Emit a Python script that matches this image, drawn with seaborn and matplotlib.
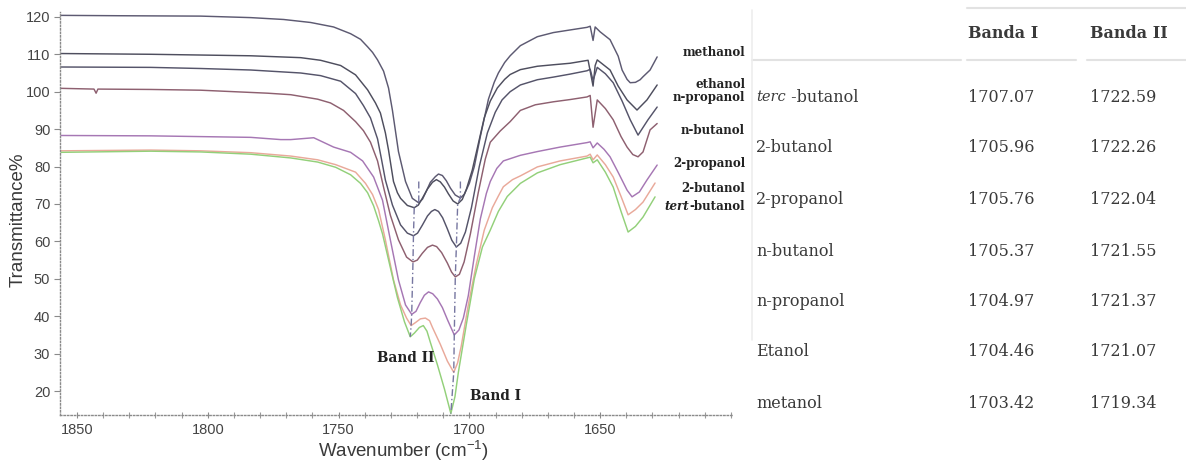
import matplotlib
matplotlib.use("Agg")
import matplotlib.pyplot as plt
import pandas as pd
import seaborn as sns
from matplotlib.ticker import MultipleLocator

# ---------------------------------------------------------------- table data
TABLE_HEADER = ["Banda I", "Banda II"]
TABLE_ROWS = ["terc -butanol", "2-butanol", "2-propanol", "n-butanol",
              "n-propanol", "Etanol", "metanol"]
BAND_I = [1707.07, 1705.96, 1705.76, 1705.37, 1704.97, 1704.46, 1703.42]
BAND_II = [1722.59, 1722.26, 1722.04, 1721.55, 1721.37, 1721.07, 1719.34]

# ---------------------------------------------------------------- FTIR spectra
SAMPLES = ["methanol", "ethanol", "n-propanol", "n-butanol",
           "2-propanol", "2-butanol", "tert-butanol"]
TABLE_INDEX = [6, 5, 4, 3, 2, 1, 0]   # row of each sample in the table

WN_METHANOL = [1856.1, 1833.2, 1802.7, 1783.6, 1771.0, 1760.7, 1751.9, 1745.4,
               1741.6, 1738.9, 1737.0, 1735.1, 1732.8, 1730.9, 1729.4, 1727.1,
               1724.4, 1721.8, BAND_II[6], 1717.9, 1716.4, 1714.9, 1713.0, 1711.8,
               1710.3, 1708.8, 1707.2, 1705.4, BAND_I[6], 1701.9, 1700.0, 1698.1,
               1695.8, 1692.7, 1690.5, 1688.9, 1686.5, 1684.4, 1680.5, 1674.0,
               1667.9, 1661.5, 1655.0, 1653.8, 1652.7, 1651.9, 1650.0, 1646.2,
               1643.1, 1641.6, 1639.7, 1638.5, 1636.5, 1634.7, 1633.6, 1630.9,
               1628.2]
T_METHANOL = [120.4, 120.3, 120.2, 119.8, 119.3, 118.5, 117.3, 115.5,
              114.0, 112.0, 110.5, 108.5, 105.5, 101.0, 95.0, 84.0,
              76.0, 71.5, 70.3, 71.3, 73.5, 75.8, 77.3, 78.0,
              77.6, 76.2, 74.2, 72.4, 71.6, 72.6, 75.5, 80.0,
              88.0, 98.0, 102.5, 105.0, 107.8, 109.6, 112.3, 114.7,
              115.8, 116.5, 117.2, 117.5, 113.7, 117.3, 116.0, 113.9,
              109.5, 105.8, 103.3, 102.4, 102.5, 103.2, 104.0, 105.8,
              109.3]

WN_ETHANOL = [1856.1, 1821.8, 1783.6, 1764.5, 1756.9, 1749.2, 1743.5, 1738.9,
              1735.9, 1734.0, 1732.1, 1730.9, 1729.0, 1727.5, 1726.3, 1723.7,
              BAND_II[5], 1719.5, 1717.9, 1716.0, 1714.1, 1712.6, 1711.1, 1709.5,
              1708.0, 1706.2, BAND_I[5], 1702.7, 1701.1, 1698.9, 1696.6, 1694.3,
              1692.0, 1689.3, 1686.5, 1684.4, 1680.5, 1674.0, 1667.9, 1661.5,
              1654.6, 1652.7, 1651.9, 1651.1, 1646.2, 1643.1, 1639.7, 1635.9,
              1632.1, 1628.2]
T_ETHANOL = [110.2, 110.0, 109.6, 109.1, 108.4, 107.0, 104.5, 100.5,
             97.0, 94.3, 89.0, 84.4, 76.0, 73.0, 71.5, 69.6,
             69.0, 69.7, 71.6, 74.0, 75.8, 76.5, 75.9, 74.5,
             72.7, 70.8, 70.0, 71.2, 74.0, 79.0, 86.0, 93.0,
             97.5, 101.0, 103.3, 104.6, 105.9, 106.8, 107.2, 107.6,
             108.4, 101.5, 107.0, 108.5, 105.8, 101.5, 97.8, 95.1,
             97.8, 101.8]

WN_NPROPANOL = [1856.1, 1821.8, 1802.7, 1783.6, 1764.5, 1756.9, 1749.2, 1743.5,
                1740.5, 1737.8, 1735.1, 1733.6, 1732.1, 1729.4, 1726.3, 1723.7,
                BAND_II[4], 1719.8, 1718.0, 1716.0, 1714.5, 1713.2, 1711.8, 1710.2,
                1708.5, 1706.7, BAND_I[4], 1703.3, 1701.5, 1699.2, 1696.2, 1693.1,
                1690.1, 1687.5, 1684.4, 1680.5, 1674.0, 1667.9, 1661.5, 1655.0,
                1653.8, 1652.7, 1651.1, 1648.0, 1645.0, 1641.6, 1638.5, 1635.5,
                1631.7, 1628.2]
T_NPROPANOL = [106.6, 106.5, 106.2, 105.8, 105.0, 104.3, 102.8, 99.5,
               96.3, 93.0, 87.4, 82.0, 76.4, 69.7, 64.4, 62.2,
               61.5, 62.2, 64.3, 66.8, 68.0, 68.5, 68.0, 66.3,
               63.5, 60.3, 58.5, 59.5, 62.5, 69.0, 80.0, 89.0,
               94.5, 97.8, 100.0, 101.8, 103.2, 103.9, 104.7, 105.6,
               106.0, 103.0, 106.5, 104.8, 102.4, 97.5, 92.5, 88.4,
               92.5, 95.9]

WN_NBUTANOL = [1856.1, 1843.5, 1842.7, 1842.0, 1821.8, 1802.7, 1777.1, 1768.3,
               1758.0, 1753.1, 1748.1, 1743.5, 1740.5, 1737.8, 1735.1, 1732.8,
               1730.2, 1727.1, 1724.0, BAND_II[3], 1719.9, 1718.0, 1716.0, 1714.1,
               1712.5, 1710.6, 1708.4, 1706.8, BAND_I[3], 1703.8, 1702.0, 1699.6,
               1696.6, 1693.9, 1692.0, 1688.2, 1684.4, 1680.5, 1674.8, 1667.9,
               1661.5, 1655.0, 1653.8, 1652.7, 1651.1, 1648.0, 1645.0, 1642.0,
               1639.7, 1637.5, 1635.5, 1633.6, 1630.9, 1628.2]
T_NBUTANOL = [100.9, 100.7, 99.6, 100.7, 100.6, 100.4, 99.6, 99.2,
              98.0, 97.0, 95.0, 92.0, 89.6, 86.5, 81.5, 74.5,
              67.0, 60.4, 55.8, 54.5, 55.0, 56.8, 58.4, 59.0,
              58.6, 57.0, 54.2, 51.8, 50.5, 51.2, 54.5, 62.0,
              73.0, 82.0, 86.5, 89.5, 92.0, 95.0, 96.5, 97.3,
              97.9, 98.6, 99.0, 90.5, 97.8, 95.5, 92.5, 88.0,
              85.2, 83.2, 82.6, 83.9, 89.8, 91.5]

WN_2PROPANOL = [1856.1, 1821.8, 1802.7, 1783.6, 1772.1, 1768.3, 1759.5, 1751.9,
                1745.4, 1740.8, 1736.6, 1733.2, 1730.2, 1727.1, 1724.4, BAND_II[2],
                1720.4, 1718.8, 1717.2, 1715.6, 1714.0, 1712.2, 1710.3, 1708.2,
                BAND_I[2], 1704.0, 1702.3, 1700.4, 1698.1, 1695.8, 1693.5, 1692.0,
                1689.5, 1687.0, 1680.5, 1674.0, 1665.3, 1655.0, 1653.8, 1652.7,
                1651.1, 1648.5, 1646.2, 1643.0, 1639.7, 1637.8, 1635.0, 1632.1,
                1628.2]
T_2PROPANOL = [88.3, 88.2, 88.0, 87.8, 87.2, 87.2, 87.7, 85.2,
               83.8, 81.5, 77.2, 71.0, 60.4, 49.7, 43.0, 40.5,
               41.3, 43.6, 45.6, 46.5, 46.0, 44.6, 42.3, 38.8,
               35.0, 36.3, 39.5, 45.5, 56.0, 66.0, 72.8, 76.0,
               79.5, 81.5, 83.0, 84.0, 85.2, 86.4, 86.6, 85.0,
               86.3, 84.6, 82.6, 78.3, 73.7, 71.9, 73.2, 76.4,
               80.4]

WN_2BUTANOL = [1856.1, 1821.8, 1802.7, 1783.6, 1768.3, 1758.0, 1751.1, 1745.4,
               1743.5, 1739.7, 1737.0, 1734.7, 1732.1, 1729.0, 1726.3, 1724.0,
               BAND_II[1], 1720.6, 1718.7, 1716.8, 1715.2, 1714.1, 1711.1, 1708.4,
               BAND_I[1], 1704.5, 1703.1, 1700.4, 1697.3, 1694.3, 1691.2, 1689.0,
               1687.0, 1683.5, 1680.5, 1674.0, 1665.3, 1655.0, 1653.8, 1652.7,
               1651.1, 1648.0, 1645.0, 1642.0, 1639.3, 1636.5, 1633.6, 1629.0]
T_2BUTANOL = [84.2, 84.4, 84.2, 83.7, 82.8, 81.8, 80.5, 79.0,
              78.5, 75.5, 72.5, 68.5, 60.4, 49.7, 43.0, 39.5,
              37.5, 38.3, 39.3, 39.5, 38.8, 37.0, 32.5, 28.0,
              25.0, 27.5, 32.0, 43.0, 54.0, 63.0, 69.0, 72.0,
              74.6, 76.5, 77.5, 79.9, 81.5, 82.8, 83.3, 81.8,
              83.1, 80.5, 77.2, 72.0, 67.1, 68.5, 70.5, 75.6]

WN_TBUTANOL = [1856.1, 1821.8, 1802.7, 1783.6, 1768.3, 1758.0, 1751.1, 1745.4,
               1741.6, 1738.9, 1736.6, 1734.7, 1733.2, 1730.2, 1727.5, 1724.8,
               BAND_II[0], 1721.0, 1719.1, 1717.6, 1716.2, 1714.9, 1712.2, 1709.5,
               BAND_I[0], 1705.5, 1704.2, 1701.1, 1698.1, 1695.0, 1692.0, 1688.9,
               1685.5, 1680.5, 1674.0, 1665.3, 1655.0, 1653.8, 1652.7, 1651.1,
               1648.0, 1645.0, 1642.0, 1639.3, 1636.5, 1633.6, 1629.0]
T_TBUTANOL = [83.8, 84.1, 83.9, 83.3, 82.3, 81.2, 79.8, 77.8,
              75.5, 73.0, 69.5, 65.5, 62.0, 53.0, 45.0, 38.5,
              34.5, 35.5, 37.0, 37.5, 36.0, 33.0, 27.0, 20.5,
              14.0, 18.5, 25.0, 38.0, 50.0, 58.5, 63.0, 68.0,
              72.0, 75.5, 78.3, 80.5, 82.3, 82.5, 81.0, 81.8,
              78.5, 74.5, 68.0, 62.5, 64.0, 66.5, 71.9]

WAVENUMBERS = [WN_METHANOL, WN_ETHANOL, WN_NPROPANOL, WN_NBUTANOL,
               WN_2PROPANOL, WN_2BUTANOL, WN_TBUTANOL]
TRANSMITTANCE = [T_METHANOL, T_ETHANOL, T_NPROPANOL, T_NBUTANOL,
                 T_2PROPANOL, T_2BUTANOL, T_TBUTANOL]

COLORS = ["#5d5a72", "#4e4e5e", "#55546a", "#8e6070",
          "#a677b4", "#e9a99a", "#93d07a"]

# ---------------------------------------------------------------- style
sns.set_theme(style="white")
plt.rcParams["font.family"] = ["Liberation Sans", "DejaVu Sans"]
plt.rcParams["mathtext.fontset"] = "custom"
plt.rcParams["mathtext.rm"] = "Liberation Sans"
plt.rcParams["mathtext.default"] = "regular"

W, H = 1186, 466
fig = plt.figure(figsize=(W / 100, H / 100), dpi=100)
fig.patch.set_facecolor("white")

ax = fig.add_axes([60 / W, 1 - 415 / H, 673 / W, 403 / H])
ax.set_facecolor("white")

frames = []
for name, wn, tr in zip(SAMPLES, WAVENUMBERS, TRANSMITTANCE):
    frames.append(pd.DataFrame({"wavenumber": wn, "T": tr, "sample": name}))
df = pd.concat(frames, ignore_index=True)

sns.lineplot(data=df, x="wavenumber", y="T", hue="sample", hue_order=SAMPLES,
             palette=COLORS, sort=False, estimator=None, legend=False,
             linewidth=1.05, ax=ax)

# dash-dot guides through the band minima
for bands in (BAND_II, BAND_I):
    xs, ys = [], []
    for k, (wn, tr) in enumerate(zip(WAVENUMBERS, TRANSMITTANCE)):
        b = bands[TABLE_INDEX[k]]
        xs.append(b)
        ys.append(tr[wn.index(b)])
    xs = [xs[0]] + xs
    ys = [76.0] + ys
    ax.plot(xs, ys, color="#7676a0", lw=1.0, ls=(0, (5, 2, 1, 2)), zorder=3)

ax.text(1724.4, 28.8, "Band II", family="DejaVu Serif", weight="bold",
        fontsize=9.8, ha="center", va="center", color="#222222")
ax.text(1690.1, 18.7, "Band I", family="DejaVu Serif", weight="bold",
        fontsize=9.8, ha="center", va="center", color="#222222")

ax.set_xlim(1856.5, 1599.2)
ax.set_ylim(13.6, 121.3)
ax.set_xticks([1850, 1800, 1750, 1700, 1650])
ax.set_yticks(list(range(20, 121, 10)))
ax.xaxis.set_minor_locator(MultipleLocator(10))
ax.set_xlabel("")
ax.set_ylabel("")
for side in ("top", "right"):
    ax.spines[side].set_visible(False)
for side in ("left", "bottom"):
    ax.spines[side].set_color("#8a8a8a")
    ax.spines[side].set_linewidth(1.0)
    ax.spines[side].set_linestyle((0, (1, 1.5)))
ax.tick_params(axis="both", which="major", direction="out", length=4,
               width=0.8, color="#8a8a8a", labelsize=10.5,
               labelcolor="#444444", pad=3)
ax.tick_params(axis="x", which="minor", direction="inout", length=4,
               width=0.8, color="#9a9a9a", bottom=True)
ax.tick_params(axis="x", which="major", direction="inout", length=5,
               bottom=True)
ax.tick_params(axis="y", which="major", left=True)

# ---------------------------------------------------------------- overlay (pixel coords)
ov = fig.add_axes([0, 0, 1, 1])
ov.set_xlim(0, W)
ov.set_ylim(H, 0)
ov.axis("off")
ov.patch.set_visible(False)

fig.text(18 / W, 1 - 220 / H, "Transmittance%", rotation=90, ha="center",
         va="center", fontsize=13.5, color="#3a3a3a")
fig.text(403 / W, 1 - 451 / H, "Wavenumber (cm$^{-1}$)", ha="center",
         va="center", fontsize=13.5, color="#3a3a3a")

# curve names
LABEL_Y = [52, 84, 97, 130, 163, 188, 206]
lab_kw = dict(family="DejaVu Serif", weight="bold", fontsize=8.6,
              color="#222222", va="center")
for name, y in zip(SAMPLES, LABEL_Y):
    if name.startswith("tert"):
        t = ov.text(745, y, name[4:], ha="right", **lab_kw)
        ov.annotate(name[:4], xy=(0, 0.5), xycoords=t, ha="right",
                    style="italic", **lab_kw)
    else:
        ov.text(745, y, name, ha="right", **lab_kw)

# table
line_c = "#e2e2e2"
ov.plot([967, 1186], [8, 8], color=line_c, lw=1.5)
for x0, x1 in ((752, 961), (967, 1076), (1087, 1186)):
    ov.plot([x0, x1], [60, 60], color=line_c, lw=1.5)
ov.plot([752, 752], [10, 340], color="#eeeeee", lw=1.2)

tab_kw = dict(family="DejaVu Serif", fontsize=11.5, color="#3a3a3a",
              va="center", ha="left")
COL_X = [968, 1090]
for cx, head in zip(COL_X, TABLE_HEADER):
    ov.text(cx, 33, head, weight="bold", **tab_kw)

ROW_Y = [97, 148, 199, 251, 302, 352, 403]
for label, b1, b2, y in zip(TABLE_ROWS, BAND_I, BAND_II, ROW_Y):
    if label.startswith("terc"):
        t = ov.text(756, y, label[:4], style="italic",
                    **{**tab_kw, "fontsize": 10.5})
        ov.annotate(label[4:], xy=(1, 0.5), xycoords=t, **tab_kw)
    else:
        ov.text(756, y, label, **tab_kw)
    ov.text(COL_X[0], y, f"{b1:.2f}", **tab_kw)
    ov.text(COL_X[1], y, f"{b2:.2f}", **tab_kw)

fig.savefig("out.png", dpi=100, facecolor="white")
